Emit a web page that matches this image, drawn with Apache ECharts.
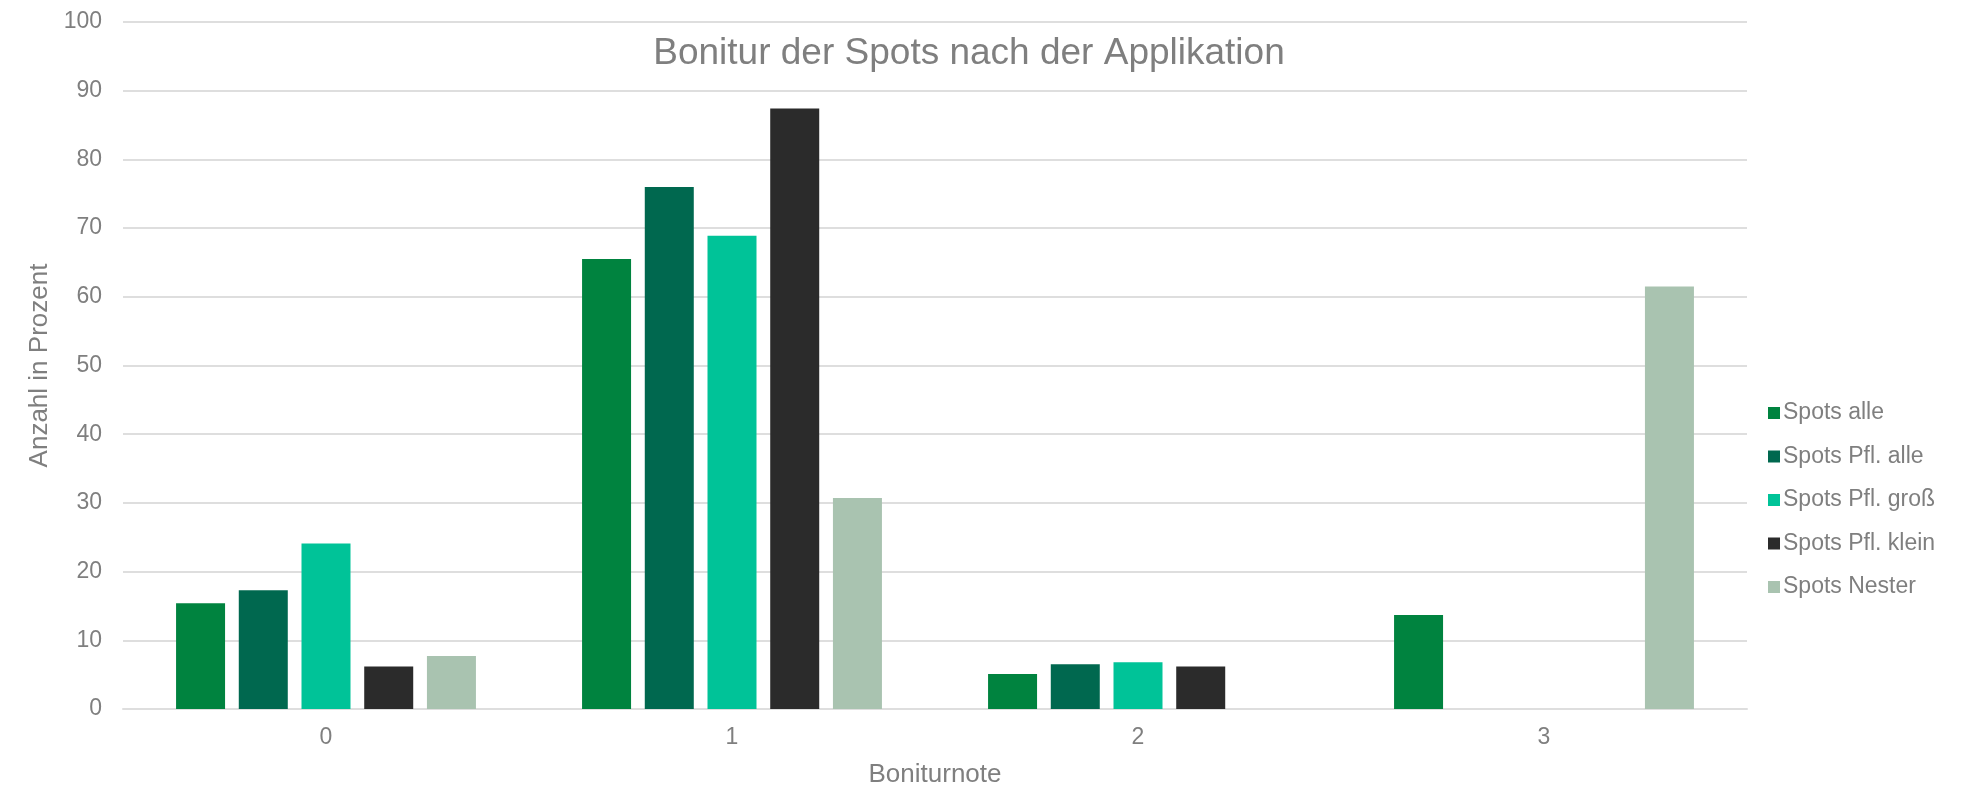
<!DOCTYPE html>
<html>
<head>
<meta charset="utf-8">
<title>Bonitur der Spots</title>
<script src="https://cdn.jsdelivr.net/npm/echarts@6/dist/echarts.min.js"></script>
<style>
  html, body { margin: 0; padding: 0; background: #fff; }
  #chart { width: 1984px; height: 793px; }
</style>
</head>
<body>
<div id="chart"></div>
<script>
// Boniturnote categories
const categories = ['0', '1', '2', '3']
const seriesNames = ['Spots alle', 'Spots Pfl. alle', 'Spots Pfl. groß', 'Spots Pfl. klein', 'Spots Nester']
// Anzahl in Prozent
const spotsAlle = [15.4, 65.5, 5.1, 13.7]
const spotsPflAlle = [17.3, 76.0, 6.5, 0]
const spotsPflGross = [24.1, 68.9, 6.8, 0]
const spotsPflKlein = [6.2, 87.4, 6.2, 0]
const spotsNester = [7.7, 30.7, 0, 61.5]
const yTicks = [0, 10, 20, 30, 40, 50, 60, 70, 80, 90, 100]

const colors = ['#00833f', '#00684f', '#00c398', '#2b2b2b', '#a9c3b0']
const textColor = '#7f7f7f'
const font = 'Liberation Sans, Arial, sans-serif'

const chart = echarts.init(document.getElementById('chart'))

chart.setOption({
  animation: false,
  color: colors,
  title: {
    text: 'Bonitur der Spots nach der Applikation',
    left: 964,
    top: 30,
    textAlign: 'center',
    textStyle: {
      color: textColor,
      fontWeight: 'normal',
      fontSize: 37,
      fontFamily: font
    }
  },
  legend: {
    orient: 'vertical',
    left: 1763,
    top: 396,
    itemWidth: 12,
    itemHeight: 12,
    itemGap: 19.5,
    icon: 'rect',
    textStyle: {
      color: textColor,
      fontSize: 23,
      lineHeight: 24,
      fontFamily: font,
      padding: [0, 0, 0, -2]
    },
    data: seriesNames
  },
  grid: {
    left: 123,
    right: 237,
    top: 22,
    bottom: 80
  },
  xAxis: {
    type: 'category',
    data: categories,
    name: 'Boniturnote',
    nameLocation: 'middle',
    nameGap: 53,
    nameTextStyle: { color: textColor, fontSize: 26, fontFamily: font },
    axisLine: { lineStyle: { color: '#dedede', width: 2 } },
    axisTick: { show: false },
    axisLabel: { color: textColor, fontSize: 23, fontFamily: font, margin: 17 }
  },
  yAxis: {
    type: 'value',
    min: yTicks[0],
    max: yTicks[yTicks.length - 1],
    interval: 10,
    name: 'Anzahl in Prozent',
    nameLocation: 'middle',
    nameGap: 70,
    nameTextStyle: { color: textColor, fontSize: 26, fontFamily: font },
    axisLine: { show: false },
    axisTick: { show: false },
    axisLabel: { color: textColor, fontSize: 23, fontFamily: font, margin: 21 },
    splitLine: { lineStyle: { color: '#dedede', width: 2 } }
  },
  series: [spotsAlle, spotsPflAlle, spotsPflGross, spotsPflKlein, spotsNester].map((values, i) => ({
    name: seriesNames[i],
    type: 'bar',
    barWidth: 49,
    barGap: '28%',
    data: values
  }))
})
</script>
</body>
</html>
